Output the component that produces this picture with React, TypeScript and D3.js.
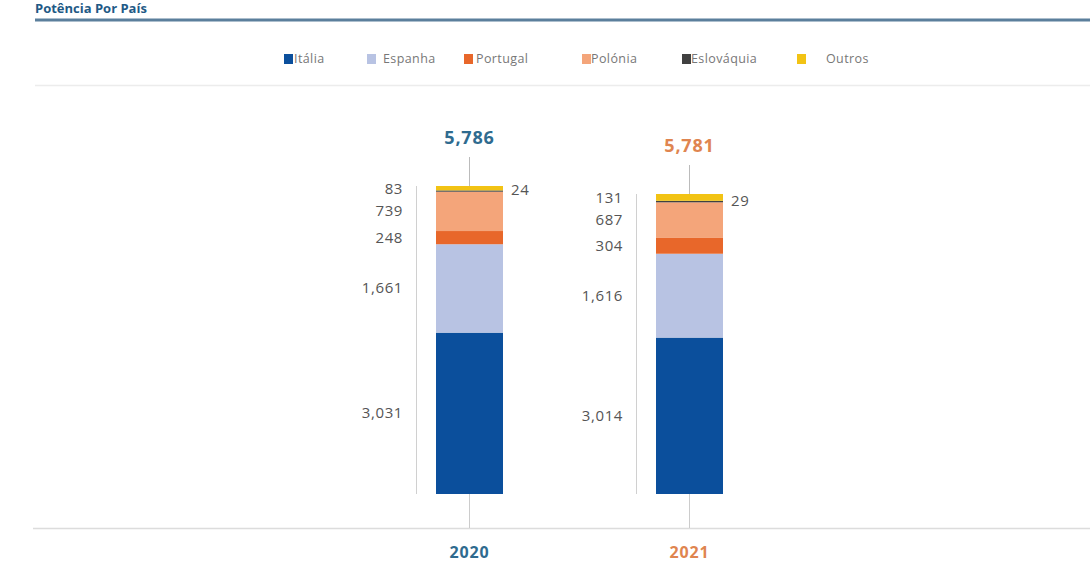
import React from "react";
import * as d3 from "d3";

const years = ["2020", "2021"];
const series = ["Itália", "Espanha", "Portugal", "Polónia", "Eslováquia", "Outros"];
const italia = [3031, 3014];
const espanha = [1661, 1616];
const portugal = [248, 304];
const polonia = [739, 687];
const eslovaquia = [24, 29];
const outros = [83, 131];
const totals = [5786, 5781];

const colors = ["#0b4f9c", "#b8c3e3", "#e8672a", "#f4a57a", "#404040", "#f2c314"];
const yearColors = ["#2f6b8f", "#df8550"];
const legendX = [284, 367, 464, 582, 682, 797];
const legendTextGap = [10, 16, 12, 9, 9, 29];

const W = 1090;
const H = 564;

export default function App() {
  const values = [italia, espanha, portugal, polonia, eslovaquia, outros];
  const rows = years.map((y, i) => {
    const r: any = { year: y };
    series.forEach((s, k) => (r[s] = values[k][i]));
    return r;
  });
  const stacked = d3.stack<any>().keys(series)(rows);

  const x = d3.scalePoint().domain(years).range([469.5, 689.5]);
  const bw = 67;
  const bottom = 494;
  const tops = [186, 194];
  const yScales = years.map((_, i) =>
    d3.scaleLinear().domain([0, totals[i]]).range([bottom, tops[i]])
  );
  const fmt = d3.format(",");

  return (
    <svg width={W} height={H} style={{ position: "absolute", left: 0, top: 0, background: "#fff" }}
      fontFamily="'Open Sans', 'Noto Sans', sans-serif">
      <text x={35} y={13} fontSize={13} fontWeight={700} fill="#1f5a86">Potência Por País</text>
      <line x1={35} x2={W} y1={20} y2={20} stroke="#5b7f9c" strokeWidth={3} />
      <line x1={35} x2={W} y1={85.5} y2={85.5} stroke="#ececec" strokeWidth={1.5} />
      {series.map((s, k) => (
        <g key={s}>
          <rect x={legendX[k]} y={54} width={9} height={10} fill={colors[k]} />
          <text x={legendX[k] + legendTextGap[k]} y={63} fontSize={12.5} letterSpacing={0.4} fill="#777">{s}</text>
        </g>
      ))}
      <line x1={33} x2={W} y1={528.5} y2={528.5} stroke="#dcdcdc" strokeWidth={1.5} />
      {years.map((yr, i) => {
        const y = yScales[i];
        const cx = x(yr)!;
        const bx = cx - bw / 2;
        return (
          <g key={yr}>
            <line x1={bx - 19.5} x2={bx - 19.5} y1={y(totals[i])} y2={bottom} stroke="#d0d0d0" strokeWidth={1} />
            <line x1={cx} x2={cx} y1={y(totals[i]) - 29} y2={y(totals[i])} stroke="#bbbbbb" strokeWidth={1} />
            <line x1={cx} x2={cx} y1={bottom} y2={528} stroke="#cccccc" strokeWidth={1} />
            {stacked.map((st, k) => {
              const d = st[i];
              return (
                <rect key={k} x={bx} width={bw} y={y(d[1])} height={Math.max(0, y(d[0]) - y(d[1]))} fill={colors[k]} />
              );
            })}
            {stacked.map((st, k) => {
              if (series[k] === "Eslováquia") {
                return (
                  <text key={"l" + k} x={bx + bw + 8} y={y(st[i][1]) + 5} fontSize={15} letterSpacing={0.6} fill="#555">
                    {fmt(values[k][i])}
                  </text>
                );
              }
              const mid = (y(st[i][0]) + y(st[i][1])) / 2;
              const ly = series[k] === "Outros" ? mid + 1 : mid;
              return (
                <text key={"l" + k} x={bx - 33} y={ly + 5} fontSize={15} letterSpacing={0.6} fill="#555" textAnchor="end">
                  {fmt(values[k][i])}
                </text>
              );
            })}
            <text x={cx} y={y(totals[i]) - 42} fontSize={18} letterSpacing={0.8} fontWeight={700} fill={yearColors[i]} textAnchor="middle">
              {fmt(totals[i])}
            </text>
            <text x={cx} y={558} fontSize={16} letterSpacing={0.8} fontWeight={700} fill={yearColors[i]} textAnchor="middle">{yr}</text>
          </g>
        );
      })}
    </svg>
  );
}
